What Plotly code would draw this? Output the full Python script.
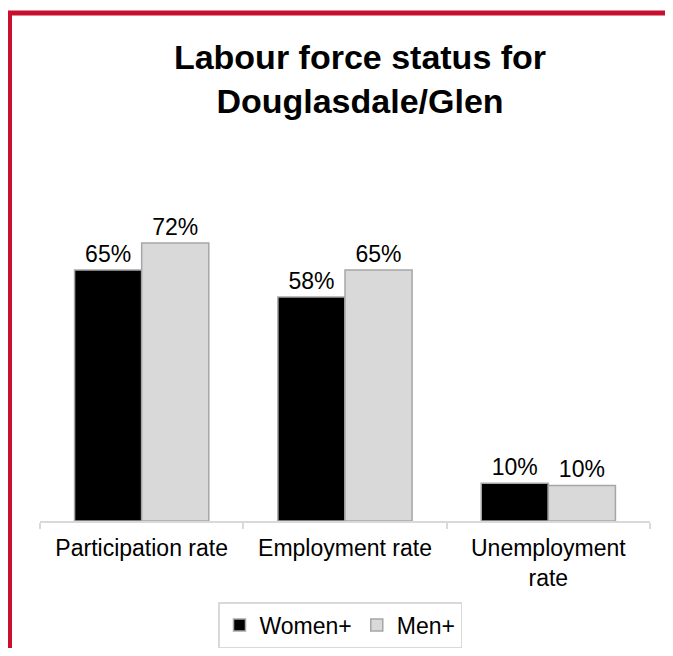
import plotly.graph_objects as go

categories = ["Participation rate", "Employment rate", "Unemployment<br>rate"]
women_values = [65, 58, 9.8]
men_values = [72, 65, 9.2]
women_labels = ["65%", "58%", "10%"]
men_labels = ["72%", "65%", "10%"]
title_text = "Labour force status for<br>Douglasdale/Glen"

OFF = 8  # page body margin
W, H = 673 - 2 * OFF, 656 - 2 * OFF
# plot area in page pixels: x 40..650, y 212..521
L = 40 - OFF
T = 212 - OFF
R = W - (650 - OFF)
B = H - (521 - OFF)
pw, ph = W - L - R, H - T - B

def px_x(x):
    return (x - OFF - L) / pw

def px_y(y):
    return (H - B - (y - OFF)) / ph

FONT = "Arial, Liberation Sans, sans-serif"

fig = go.Figure()
fig.add_trace(go.Bar(
    x=categories, y=women_values, name="Women+",
    text=women_labels, textposition="outside",
    marker=dict(color="#000000", line=dict(color="#a6a6a6", width=1.5)),
    textfont=dict(color="#000000", size=23, family=FONT),
    cliponaxis=False,
))
fig.add_trace(go.Bar(
    x=categories, y=men_values, name="Men+",
    text=men_labels, textposition="outside",
    marker=dict(color="#d9d9d9", line=dict(color="#a6a6a6", width=1.5)),
    textfont=dict(color="#000000", size=23, family=FONT),
    cliponaxis=False,
))

red = "#C8102E"
fig.update_layout(
    width=W, height=H,
    margin=dict(l=L, r=R, t=T, b=B, autoexpand=False),
    paper_bgcolor="white", plot_bgcolor="white",
    font=dict(family=FONT, size=23, color="#000000"),
    barmode="group", bargap=0.34, bargroupgap=0,
    title=dict(text="<b>" + title_text + "</b>", x=(360 - OFF) / W, xanchor="center",
               y=1 - 61 / H, yanchor="top", yref="container",
               font=dict(size=34, family=FONT, color="#000000")),
    xaxis=dict(type="category", showline=True, linecolor="#d9d9d9", linewidth=1.5,
               ticks="outside", tickson="boundaries", ticklen=6, tickcolor="#d9d9d9",
               tickwidth=1.5, showgrid=False, zeroline=False, automargin=False,
               tickfont=dict(size=23, family=FONT, color="#000000"),
               ticklabelstandoff=6),
    yaxis=dict(range=[0, 80], visible=False, showgrid=False, zeroline=False,
               automargin=False),
    showlegend=True,
    legend=dict(orientation="h", x=px_x(340), xanchor="center",
                y=px_y(602), yanchor="top", bordercolor="#d9d9d9", borderwidth=1.5,
                font=dict(size=23, family=FONT, color="#000000"),
                itemwidth=30, traceorder="normal"),
    shapes=[dict(type="path", xref="paper", yref="paper",
                 path=f"M {px_x(9.5)},{px_y(680)} L {px_x(9.5)},{px_y(13)} L {px_x(700)},{px_y(13)}",
                 line=dict(color=red, width=5))],
)

fig.write_html("out.html")
